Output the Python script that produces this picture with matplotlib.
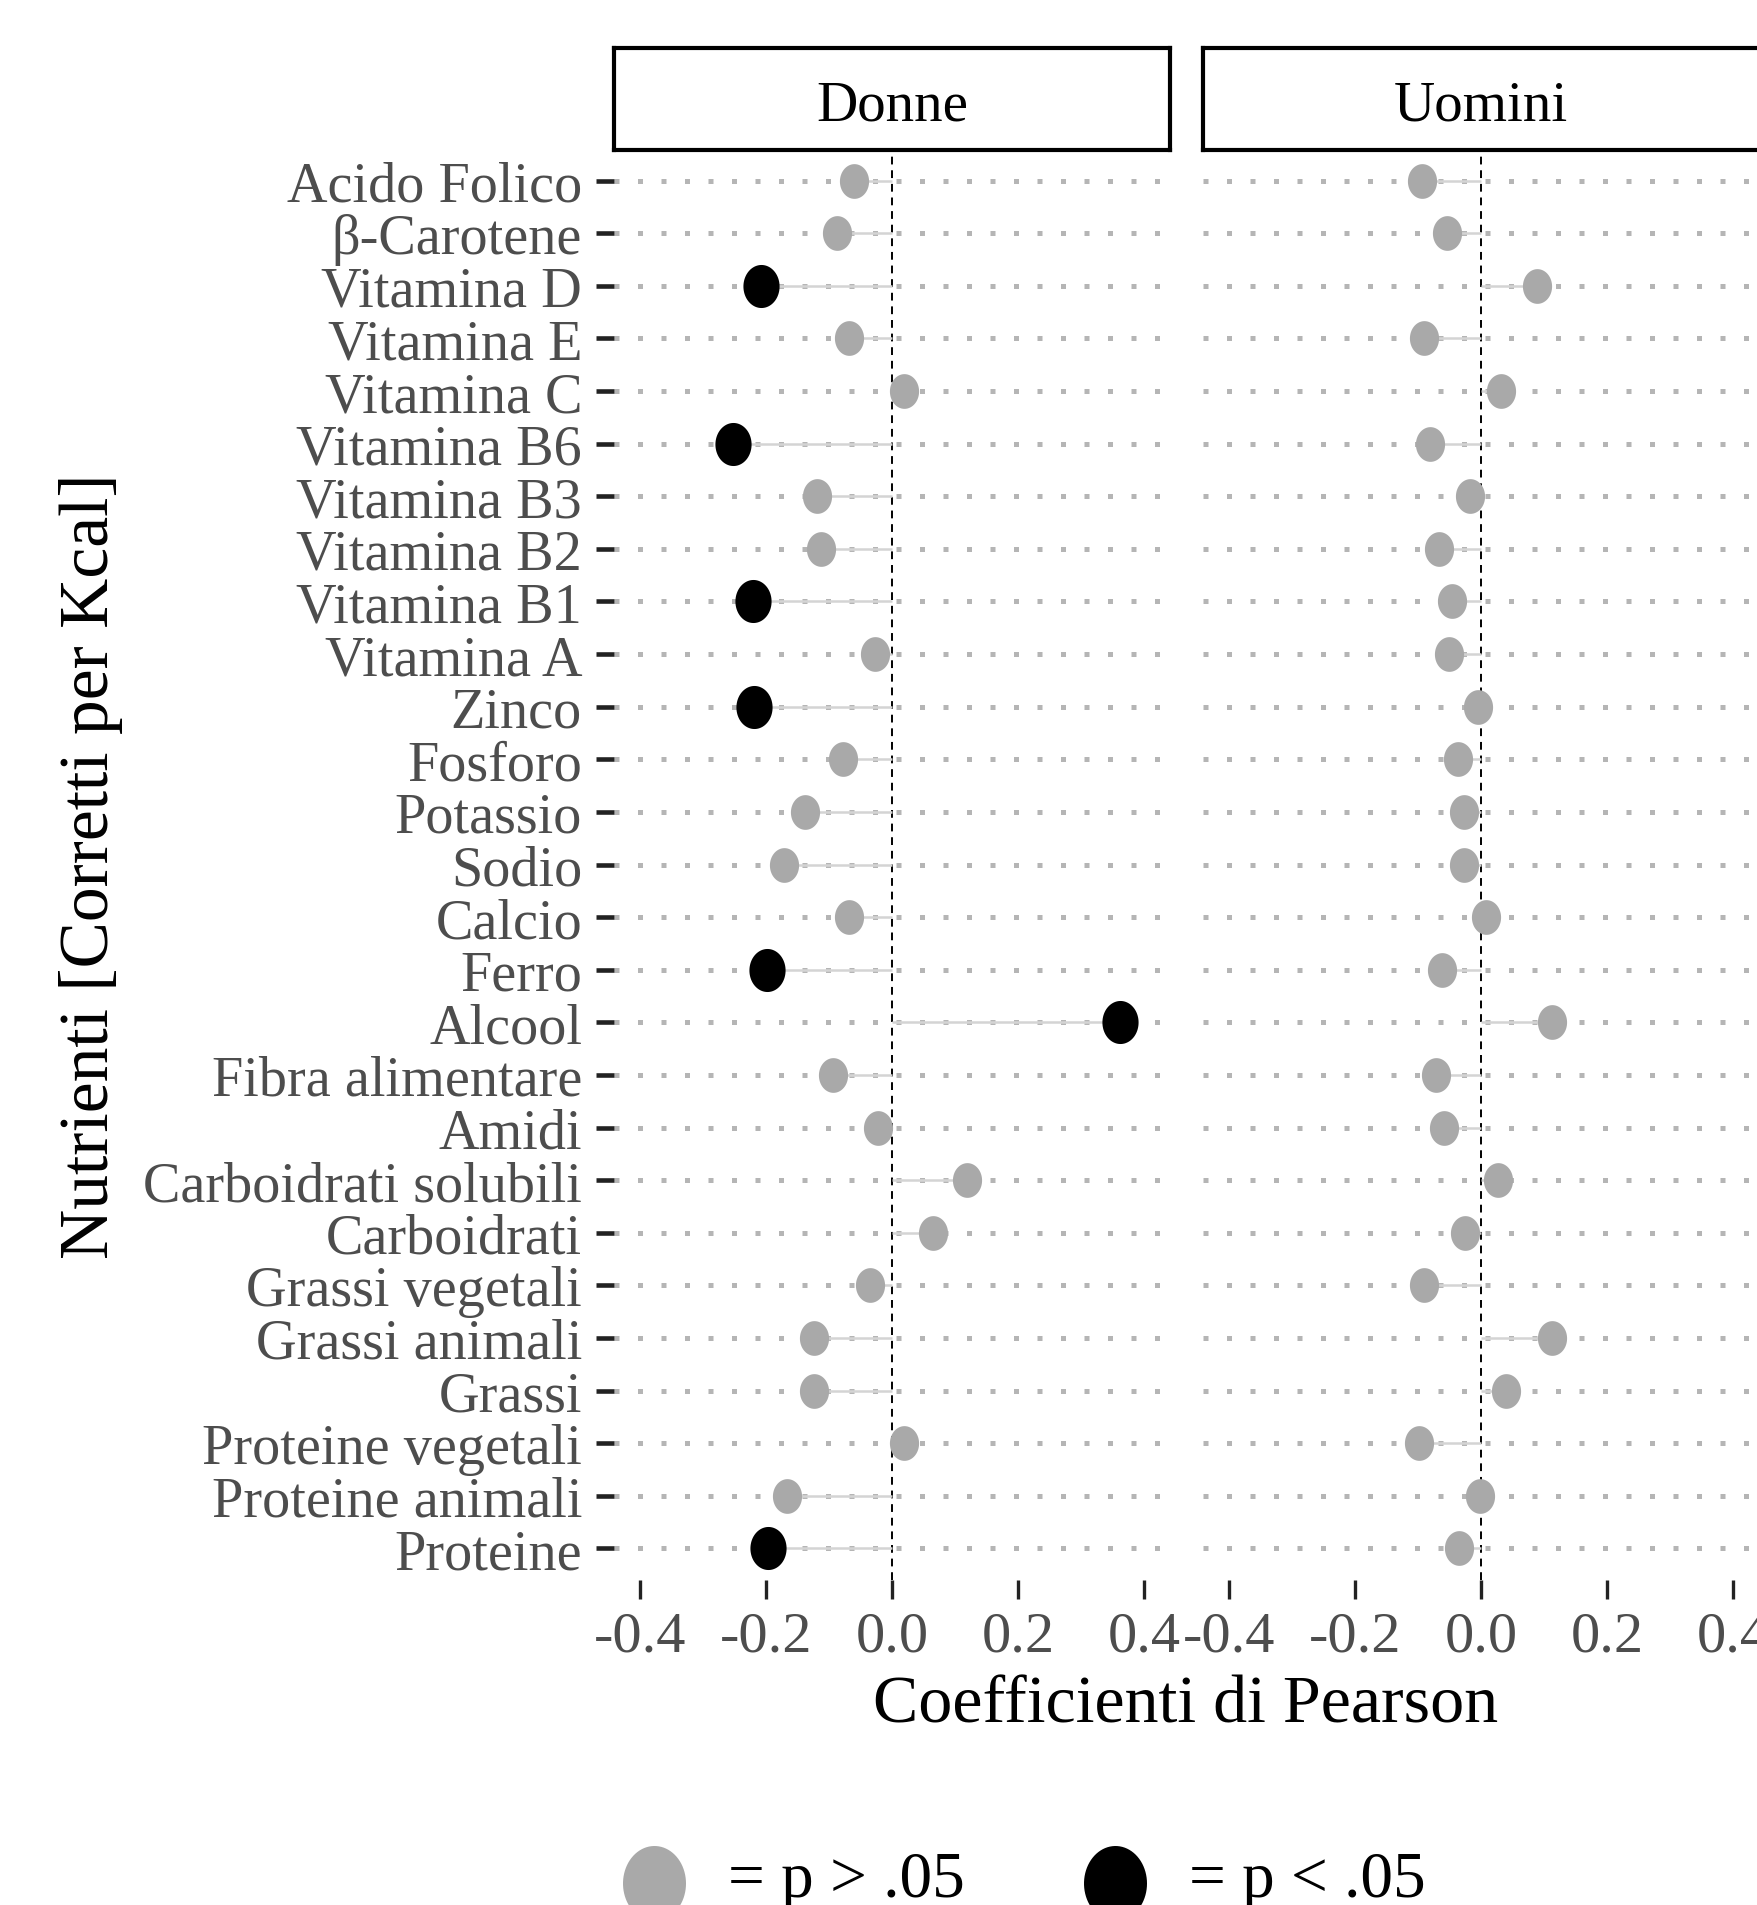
import numpy as np
import matplotlib
matplotlib.use('Agg')
import matplotlib.pyplot as plt
from matplotlib.path import Path

plt.rcParams['font.family'] = ['Liberation Serif', 'DejaVu Serif']

# nutrients, top to bottom
nutrients = ['Acido Folico', 'β-Carotene', 'Vitamina D', 'Vitamina E', 'Vitamina C',
             'Vitamina B6', 'Vitamina B3', 'Vitamina B2', 'Vitamina B1', 'Vitamina A',
             'Zinco', 'Fosforo', 'Potassio', 'Sodio', 'Calcio', 'Ferro', 'Alcool',
             'Fibra alimentare', 'Amidi', 'Carboidrati solubili', 'Carboidrati',
             'Grassi vegetali', 'Grassi animali', 'Grassi', 'Proteine vegetali',
             'Proteine animali', 'Proteine']

r_donne = [-0.060, -0.088, -0.208, -0.069, 0.019, -0.252, -0.119, -0.113, -0.221,
           -0.027, -0.219, -0.077, -0.138, -0.171, -0.069, -0.198, 0.362, -0.094,
           -0.023, 0.119, 0.065, -0.035, -0.123, -0.123, 0.019, -0.167, -0.196]
sig_donne = [0, 0, 1, 0, 0, 1, 0, 0, 1, 0, 1, 0, 0, 0, 0, 1, 1, 0, 0, 0, 0, 0, 0, 0, 0, 0, 1]

r_uomini = [-0.094, -0.054, 0.089, -0.091, 0.031, -0.081, -0.017, -0.067, -0.046,
            -0.050, -0.004, -0.037, -0.027, -0.027, 0.008, -0.062, 0.112, -0.071,
            -0.058, 0.027, -0.025, -0.091, 0.112, 0.040, -0.098, -0.002, -0.035]
sig_uomini = [0] * 27

panels = [('Donne', r_donne, sig_donne), ('Uomini', r_uomini, sig_uomini)]
xticks = [-0.4, -0.2, 0.0, 0.2, 0.4]

grey = '#a9a9a9'
black = '#000000'
txt_grey = '#4d4d4d'

# slightly squashed circle, like the source image
th = np.linspace(0, 2 * np.pi, 80)
ell = Path(np.column_stack([0.84 * np.cos(th), np.sin(th)]), closed=True)

W, H = 1757, 1906
fig = plt.figure(figsize=(W / 100, H / 100), dpi=100, facecolor='white')

pan_top, pan_bot = 150, 1581
pan_w = 556
lefts = [614, 1203]

n = len(nutrients)
ypos = np.arange(n)

for i, (name, vals, sig) in enumerate(panels):
    l = lefts[i]
    ax = fig.add_axes([l / W, 1 - pan_bot / H, pan_w / W, (pan_bot - pan_top) / H])
    ax.set_xlim(-0.441, 0.441)
    ax.set_ylim(n - 0.4, -0.6)
    for s in ax.spines.values():
        s.set_visible(False)

    # dotted grid per row
    ax.hlines(ypos, -0.441, 0.441, colors='#b5b5b5', linewidth=3.6,
              linestyles=(0, (1, 3.7)), zorder=1)
    ax.axvline(0, color='black', linewidth=1.4, linestyle=(0, (4, 3)), zorder=2)

    vals = np.array(vals)
    sig = np.array(sig, dtype=bool)
    ax.hlines(ypos, 0, vals, colors='#d4d4d4', linewidth=1.8, zorder=3)
    ax.scatter(vals[~sig], ypos[~sig], s=25 ** 2, marker=ell, color=grey,
               linewidths=0, zorder=4)
    ax.scatter(vals[sig], ypos[sig], s=31 ** 2, marker=ell, color=black,
               linewidths=0, zorder=5)

    ax.set_xticks(xticks)
    ax.set_xticklabels([f'{t:.1f}' for t in xticks])
    ax.tick_params(axis='x', length=14, width=2.4, color='#222222', pad=8,
                   labelsize=42, labelcolor=txt_grey)
    if i == 0:
        ax.set_yticks(ypos)
        ax.set_yticklabels(nutrients)
        ax.tick_params(axis='y', length=13, width=3.3, color='#222222', pad=10,
                       labelsize=40.5, labelcolor=txt_grey)
    else:
        ax.set_yticks([])

    # facet strip
    sax = fig.add_axes([l / W, 1 - 151 / H, pan_w / W, 102 / H])
    sax.set_xticks([])
    sax.set_yticks([])
    for s in sax.spines.values():
        s.set_linewidth(3.0)
        s.set_color('black')
    sax.text(0.5, 0.44, name, ha='center', va='center', fontsize=41,
             color='black', transform=sax.transAxes)

fig.text(1186 / W, 1 - 1706 / H, 'Coefficienti di Pearson', ha='center', va='center',
         fontsize=49, color='black')
fig.text(91 / W, 1 - 866 / H, 'Nutrienti [Corretti per Kcal]', ha='center', va='center',
         rotation=90, fontsize=50, color='black')

# manual legend at the bottom
leg = fig.add_axes([0, 0, 1, 1], facecolor='none')
leg.set_xlim(0, W)
leg.set_ylim(H, 0)
leg.axis('off')
leg_x = [654, 1115]
leg_col = [grey, black]
leg_txt = ['= p > .05', '= p < .05']
for x, c, t in zip(leg_x, leg_col, leg_txt):
    leg.scatter([x], [1884], s=54 ** 2, marker=ell, color=c, linewidths=0)
    leg.text(x + 74, 1897, t, ha='left', va='baseline', fontsize=47, color='black')

fig.savefig('out.png', dpi=100, facecolor='white')
